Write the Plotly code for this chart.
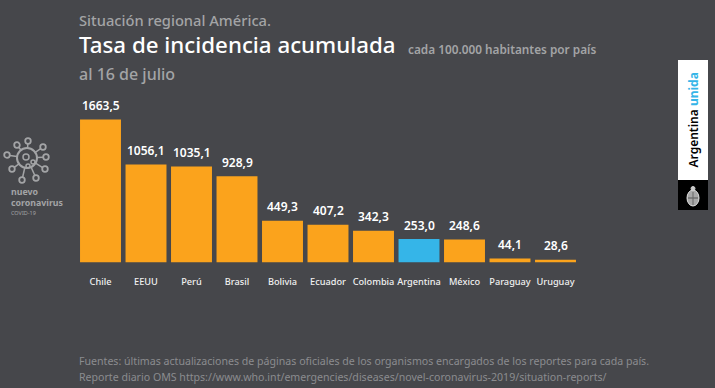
import math
import plotly.graph_objects as go

countries = ["Chile", "EEUU", "Perú", "Brasil", "Bolivia", "Ecuador", "Colombia", "Argentina", "México", "Paraguay", "Uruguay"]
value_labels = ["1663,5", "1056,1", "1035,1", "928,9", "449,3", "407,2", "342,3", "253,0", "248,6", "44,1", "28,6"]
# Bar lengths as drawn in the reference (the Chile bar is drawn shorter than its label)
drawn_values = [1541, 1056, 1035, 928.9, 449.3, 407.2, 342.3, 253.0, 248.6, 44.1, 28.6]
highlight = "Argentina"

BG = "#46474b"
ORANGE = "#fba31c"
BLUE = "#35b5e8"
GREY = "#a3a4a6"
FONT = "Noto Sans"
W, H = 715, 388
BASE = 262.5
PITCH = 45.5
CX0 = 100.5
SCALE = 0.0928

fig = go.Figure(go.Bar(
    x=countries, y=drawn_values,
    marker=dict(color=[BLUE if c == highlight else ORANGE for c in countries], line_width=0),
    hoverinfo="skip",
))

for c, v, lab in zip(countries, drawn_values, value_labels):
    fig.add_annotation(x=c, y=v, text=lab, showarrow=False, yanchor="middle", yshift=14,
                       font=dict(color="white", size=12, family=FONT, weight=600))

def txt(x, y, text, size, color, weight=400, anchor="left", angle=0):
    fig.add_annotation(xref="paper", yref="paper", x=x / W, y=1 - y / H, text=text, showarrow=False,
                       xanchor=anchor, yanchor="middle", textangle=angle,
                       font=dict(size=size, color=color, family=FONT, weight=weight))

txt(77, 20, "Situación regional América.", 14.7, GREY, 500)
txt(77, 44, "Tasa de incidencia acumulada", 22.3, "white", 500)
txt(406, 49, "cada 100.000 habitantes por país", 11.8, GREY, 600)
txt(77, 74, "al 16 de julio", 16, GREY, 500)
txt(77, 361, "Fuentes: últimas actualizaciones de páginas oficiales de los organismos encargados de los reportes para cada país.", 10.6, "#8b8c8f")
txt(77, 377, "Reporte diario OMS https://www.who.int/emergencies/diseases/novel-coronavirus-2019/situation-reports/", 10.6, "#8b8c8f")
txt(9, 192, "nuevo", 8.8, GREY, 700)
txt(9, 203, "coronavirus", 8.8, GREY, 700)
txt(9, 213, "COVID-19", 5.5, GREY)

def rect(x0, y0, x1, y1, color):
    fig.add_shape(type="rect", xref="paper", yref="paper", x0=x0 / W, x1=x1 / W, y0=1 - y0 / H, y1=1 - y1 / H,
                  fillcolor=color, line_width=0)

def circle(cx, cy, rx, ry=None, fill="rgba(0,0,0,0)", line=GREY, lw=1.5):
    ry = rx if ry is None else ry
    fig.add_shape(type="circle", xref="paper", yref="paper", x0=(cx - rx) / W, x1=(cx + rx) / W,
                  y0=1 - (cy + ry) / H, y1=1 - (cy - ry) / H, fillcolor=fill, line=dict(color=line, width=lw))

def seg(x0, y0, x1, y1, color=GREY, lw=1.5):
    fig.add_shape(type="line", xref="paper", yref="paper", x0=x0 / W, x1=x1 / W, y0=1 - y0 / H, y1=1 - y1 / H,
                  line=dict(color=color, width=lw))

# Argentina unida badge
rect(678, 60, 708, 180, "white")
rect(678, 180, 708, 210, "black")
txt(693, 120.5, "Argentina <b><span style='color:%s'>unida</span></b>" % BLUE, 12, "black", 600, anchor="center", angle=-90)
circle(693, 198, 6, 8, fill="#a8a8a8", line="#dddddd", lw=1)
circle(693, 188.5, 2, fill="#cccccc", line="#cccccc", lw=1)
seg(688, 198, 698, 198, "#555555", 1)
seg(693, 192, 693, 205, "#666666", 1)

# Virus icon
vx, vy = 27, 158
for px, py in [(28, 141), (43, 147), (46, 157), (45, 169), (36, 178), (22, 180), (12, 169), (7, 155), (17, 145)]:
    d = math.hypot(px - vx, py - vy)
    ux, uy = (px - vx) / d, (py - vy) / d
    seg(vx + ux * 10, vy + uy * 10, px - ux * 2.8, py - uy * 2.8)
    circle(px, py, 2.8, lw=1.8)
circle(vx, vy, 10, lw=2)
circle(26, 157, 3)
circle(33, 162, 2)
circle(28, 166, 2)

fig.update_layout(
    width=W, height=H, autosize=False, margin=dict(l=0, r=0, t=0, b=0),
    paper_bgcolor=BG, plot_bgcolor=BG, showlegend=False, bargap=0.1,
    xaxis=dict(range=[-CX0 / PITCH, (W - CX0) / PITCH], domain=[0, 1], showgrid=False, zeroline=False,
               showline=False, ticks="outside", ticklen=10, tickcolor="rgba(0,0,0,0)", categoryorder="array",
               categoryarray=countries, tickangle=0,
               tickfont=dict(color="#f0f0f0", size=9.2, family=FONT, weight=500)),
    yaxis=dict(range=[0, BASE / SCALE], domain=[1 - BASE / H, 1], visible=False),
)
fig.write_html("out.html", config={"displayModeBar": False},
               post_script="document.body.style.margin='0';document.documentElement.style.background='%s';document.body.style.overflow='hidden';" % BG)
